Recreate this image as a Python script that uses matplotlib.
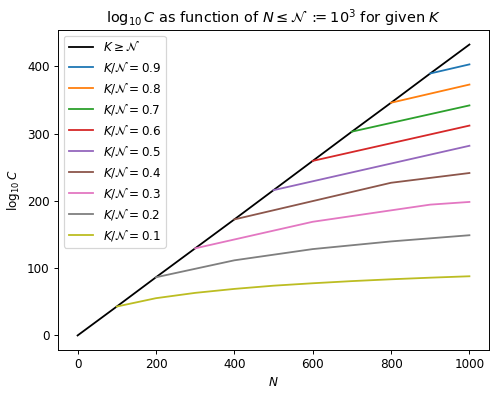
import matplotlib
matplotlib.use("Agg")
import matplotlib.pyplot as plt

# black line: K >= N
n_full = [0, 100, 200, 300, 400, 500, 600, 700, 800, 900, 1000]
logc_full = [0, 43, 86.5, 129.5, 172.5, 216, 259.5, 303, 346, 389.5, 432.5]

# one curve per K/N ratio, sampled at multiples of K (plus N=1000)
ratios = [0.9, 0.8, 0.7, 0.6, 0.5, 0.4, 0.3, 0.2, 0.1]
n_vals = [
    [900, 1000],
    [800, 1000],
    [700, 1000],
    [600, 1000],
    [500, 1000],
    [400, 800, 1000],
    [300, 600, 900, 1000],
    [200, 400, 600, 800, 1000],
    [100, 200, 300, 400, 500, 600, 700, 800, 900, 1000],
]
logc_vals = [
    [389.5, 403],
    [346, 373],
    [303, 342],
    [259.5, 312],
    [216, 282],
    [172.5, 227, 241.5],
    [129.5, 169, 194.5, 198.5],
    [86.5, 111.7, 128.4, 139.8, 149],
    [43, 55.4, 63.3, 69.2, 74, 77.6, 80.8, 83.5, 85.9, 88],
]

dpi = 86.7
fig = plt.figure(figsize=(498 / dpi, 396 / dpi), dpi=dpi)
ax = fig.add_axes([58 / 498, 46 / 396, 431 / 498, 320 / 396])

ax.plot(n_full, logc_full, color="black", label=r"$K \geq \mathcal{N}$")
for i, (r, xs, ys) in enumerate(zip(ratios, n_vals, logc_vals)):
    ax.plot(xs, ys, color="C%d" % i, label=r"$K/\mathcal{N} = %.1f$" % r)

ax.set_title(r"$\log_{10} C$ as function of $N \leq \mathcal{N} \;:\!\!\!= 10^3$ for given $K$")
ax.set_xlabel(r"$N$")
ax.set_ylabel(r"$\log_{10} C$")
ax.legend(loc="upper left")

fig.savefig("out.png", dpi=dpi)
